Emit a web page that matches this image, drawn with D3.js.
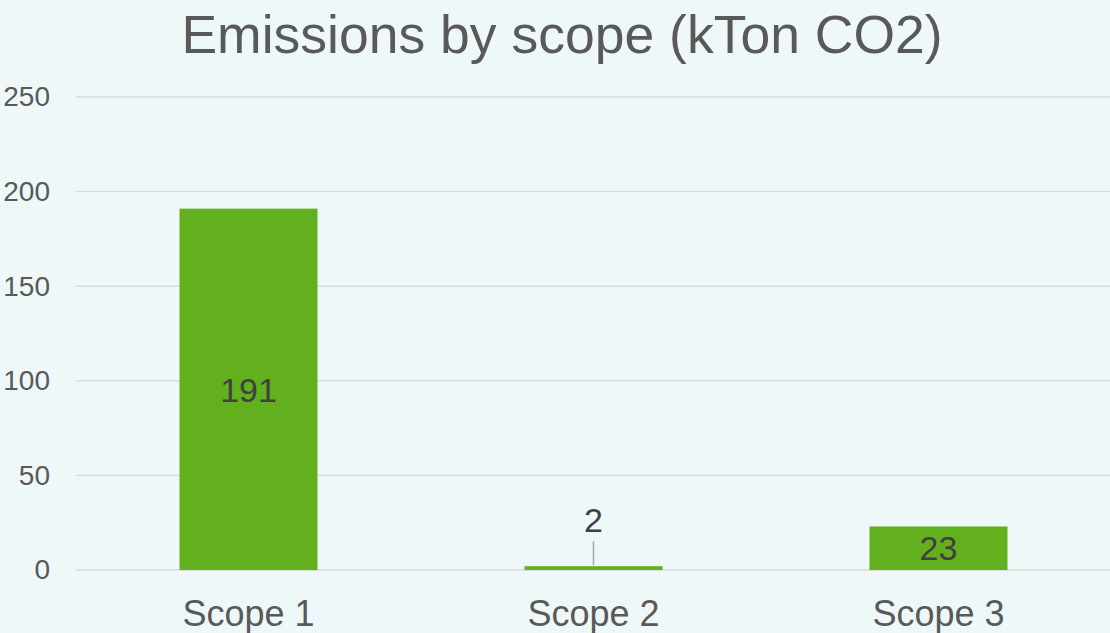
<!DOCTYPE html>
<html>
<head>
<meta charset="utf-8">
<script src="https://cdn.jsdelivr.net/npm/d3@7"></script>
<style>
  html, body { margin: 0; padding: 0; background: #eff8f8; }
  svg { display: block; font-family: "Liberation Sans", Arial, sans-serif; }
</style>
</head>
<body>
<div id="chart"></div>
<script>
const WIDTH = 1110;
const HEIGHT = 633;

const categories = ["Scope 1", "Scope 2", "Scope 3"];
const values = [191, 2, 23];
const yTicks = [0, 50, 100, 150, 200, 250];
const title = "Emissions by scope (kTon CO2)";

const margin = { top: 97, right: -1, bottom: 63, left: 76 };

let svg = d3.select("#chart")
    .append("svg")
    .attr("width", WIDTH)
    .attr("height", HEIGHT);

svg.append("rect")
    .attr("width", WIDTH)
    .attr("height", HEIGHT)
    .attr("fill", "#eff8f8");

let x = d3.scaleBand()
    .domain(categories)
    .range([margin.left, WIDTH - margin.right])
    .paddingInner(0.6)
    .paddingOuter(0.3);

let y = d3.scaleLinear()
    .domain([0, 250])
    .range([HEIGHT - margin.bottom, margin.top]);

// gridlines
svg.append("g")
    .selectAll("line")
    .data(yTicks)
    .join("line")
    .attr("x1", margin.left)
    .attr("x2", WIDTH)
    .attr("y1", d => y(d))
    .attr("y2", d => y(d))
    .attr("stroke", "#d9d9d9")
    .attr("stroke-width", 1.5);

// y axis labels
let yAxis = svg.append("g")
    .attr("transform", `translate(${margin.left - 26},0)`)
    .call(d3.axisLeft(y).tickValues(yTicks).tickSize(0).tickPadding(0));
yAxis.select(".domain").remove();
yAxis.selectAll("text")
    .attr("font-size", 28)
    .attr("fill", "#595959")
    .attr("font-family", "Liberation Sans, Arial, sans-serif");

// x axis labels
let xAxis = svg.append("g")
    .attr("transform", `translate(0,${y(0)})`)
    .call(d3.axisBottom(x).tickSize(0).tickPadding(0));
xAxis.select(".domain").remove();
xAxis.selectAll("text")
    .attr("dy", null)
    .attr("y", 56)
    .attr("font-size", 36)
    .attr("fill", "#595959")
    .attr("font-family", "Liberation Sans, Arial, sans-serif");

// bars
svg.append("g")
    .selectAll("rect")
    .data(values)
    .join("rect")
    .attr("x", (d, i) => x(categories[i]))
    .attr("width", x.bandwidth())
    .attr("y", d => y(d))
    .attr("height", d => y(0) - y(d))
    .attr("fill", "#63b01e");

// data labels
values.forEach((d, i) => {
    let cx = x(categories[i]) + x.bandwidth() / 2;
    let barH = y(0) - y(d);
    if (barH > 40) {
        svg.append("text")
            .attr("x", cx)
            .attr("y", (y(d) + y(0)) / 2)
            .attr("dy", "0.36em")
            .attr("text-anchor", "middle")
            .attr("font-size", 34)
            .attr("fill", "#404040")
            .text(d);
    } else {
        svg.append("line")
            .attr("x1", cx)
            .attr("x2", cx)
            .attr("y1", y(d) - 1)
            .attr("y2", y(d) - 25)
            .attr("stroke", "#a6a6a6")
            .attr("stroke-width", 1.5);
        svg.append("text")
            .attr("x", cx)
            .attr("y", y(d) - 34)
            .attr("text-anchor", "middle")
            .attr("font-size", 34)
            .attr("fill", "#404040")
            .text(d);
    }
});

// title
svg.append("text")
    .attr("x", 562)
    .attr("y", 53)
    .attr("text-anchor", "middle")
    .attr("font-size", 53.5)
    .attr("fill", "#595959")
    .text(title);
</script>
</body>
</html>
